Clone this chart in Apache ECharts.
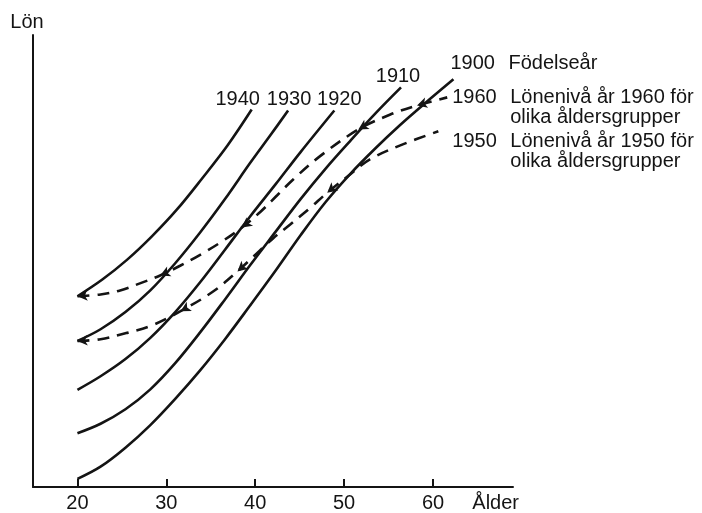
<!DOCTYPE html>
<html>
<head>
<meta charset="utf-8">
<script src="https://cdn.jsdelivr.net/npm/echarts@6/dist/echarts.min.js"></script>
<style>
html,body{margin:0;padding:0;background:#fff;}
#chart{width:702px;height:513px;}
</style>
</head>
<body>
<div id="chart"></div>
<script>
// Ages (x) and salary levels (y, arbitrary units 0-100)
const xTicks = [20, 30, 40, 50, 60];

const ages1940 = [20, 22.8, 25.6, 28.4, 31.2, 34.0, 36.9, 39.6];
const lon1940  = [42.2, 45.9, 50.3, 55.5, 61.4, 68.2, 75.6, 83.5];

const ages1930 = [20, 22.6, 25.4, 28.2, 31.0, 33.8, 36.6, 39.4, 41.7, 43.7];
const lon1930  = [32.3, 34.9, 38.7, 43.5, 49.5, 56.3, 63.7, 71.6, 77.8, 83.3];

const ages1920 = [20, 22.6, 25.4, 28.2, 31.0, 33.8, 36.6, 39.4, 42.3, 45.1, 48.9];
const lon1920  = [21.5, 24.5, 28.3, 33.0, 38.7, 45.3, 52.5, 59.8, 67.0, 74.1, 83.3];

const ages1910 = [20, 22.6, 25.4, 28.2, 31.0, 33.8, 36.6, 39.4, 42.3, 45.1, 47.9, 50.7, 53.5, 56.4];
const lon1910  = [11.9, 14.0, 17.2, 21.6, 27.4, 34.2, 41.5, 49.0, 56.5, 63.7, 70.4, 76.6, 82.6, 88.4];

const ages1900 = [20, 22.6, 25.4, 28.2, 31.0, 33.8, 36.6, 39.4, 42.3, 45.1, 47.9, 50.7, 53.5, 56.3, 59.1, 62.3];
const lon1900  = [1.8, 4.5, 8.7, 13.7, 19.5, 25.8, 32.7, 40.1, 47.9, 55.7, 63.0, 69.3, 74.9, 80.1, 84.9, 90.2];

const ages1960 = [20, 22.6, 24.8, 27.1, 29.3, 31.6, 34.0, 36.4, 38.5, 40.6, 42.5, 44.3, 47.3, 51.6, 55.2, 58.2, 61.6];
const lon1960  = [42.2, 42.6, 43.5, 45.1, 46.8, 49.0, 51.6, 54.5, 57.4, 60.9, 64.6, 68.1, 73.2, 79.1, 82.4, 84.4, 86.2];
const arrows1960 = [0, 4, 8, 13, 15];

const ages1950 = [20, 22.6, 25.6, 28.2, 31.6, 35.3, 38.0, 39.8, 42.0, 43.9, 46.2, 48.1, 50.7, 52.9, 56.6, 60.6];
const lon1950  = [32.3, 32.7, 34.1, 35.6, 38.9, 43.3, 47.7, 51.0, 55.0, 58.0, 61.8, 65.1, 69.2, 72.5, 75.8, 78.7];
const arrows1950 = [0, 4, 6, 11];

const INK = '#141414';
const FONT = '"Liberation Sans", Arial, sans-serif';

function pairs(xs, ys) { return xs.map((x, i) => [x, ys[i]]); }

function cohort(name, xs, ys, offset) {
  return {
    type: 'line', name: name, data: pairs(xs, ys),
    symbol: 'none', smooth: 0.35, animation: false, silent: true,
    lineStyle: { color: INK, width: 2.6 },
    endLabel: {
      show: true, formatter: name, distance: 0,
      align: 'center', verticalAlign: 'middle', offset: offset,
      color: INK, fontSize: 20, fontFamily: FONT
    }
  };
}

const rich = {
  y: { width: 58, fontSize: 20, fontFamily: FONT, color: INK, lineHeight: 20 },
  t: { fontSize: 20, fontFamily: FONT, color: INK, lineHeight: 20 }
};

function level(name, xs, ys, arrows, text, offset, rot) {
  const data = pairs(xs, ys).map((p, i) => {
    const item = { value: p };
    if (arrows.indexOf(i) >= 0) {
      item.symbol = 'arrow';
      item.symbolSize = [8, 10];
      item.symbolRotate = rot ? rot[i] : 90;
      item.itemStyle = { color: INK };
    }
    return item;
  });
  return {
    type: 'line', name: name, data: data,
    symbol: 'none', showSymbol: true, smooth: 0.35,
    animation: false, silent: true,
    lineStyle: { color: INK, width: 2.6, type: [12, 8] },
    endLabel: {
      show: true, formatter: text, distance: 0,
      align: 'left', verticalAlign: 'top', offset: offset,
      rich: rich
    }
  };
}

const chart = echarts.init(document.getElementById('chart'), null, { renderer: 'canvas' });

function build(rot60, rot50) {
  return {
    backgroundColor: '#fff',
    animation: false,
    grid: { left: 33, right: 189, top: 35, bottom: 23 },
    xAxis: {
      type: 'value', min: 15, max: 69,
      name: 'Ålder', nameLocation: 'end', nameGap: 6,
      nameTextStyle: { align: 'right', verticalAlign: 'top', padding: [6, 0, 0, 0],
                       fontSize: 20, fontFamily: FONT, color: INK },
      axisLine: { show: true, onZero: false, lineStyle: { color: INK, width: 2 } },
      axisTick: { show: true, inside: true, length: 8, customValues: xTicks,
                  lineStyle: { color: INK, width: 2 } },
      axisLabel: { show: true, customValues: xTicks, margin: 6,
                   fontSize: 20, fontFamily: FONT, color: INK },
      splitLine: { show: false }
    },
    yAxis: {
      type: 'value', min: 0, max: 100,
      name: 'Lön', nameLocation: 'end', nameGap: 3,
      nameTextStyle: { align: 'center', padding: [0, 12, 0, 0],
                       fontSize: 20, fontFamily: FONT, color: INK },
      axisLine: { show: true, onZero: false, lineStyle: { color: INK, width: 2 } },
      axisTick: { show: false }, axisLabel: { show: false }, splitLine: { show: false }
    },
    series: [
      cohort('1940', ages1940, lon1940, [-14, -10]),
      cohort('1930', ages1930, lon1930, [1, -11]),
      cohort('1920', ages1920, lon1920, [5, -11]),
      cohort('1910', ages1910, lon1910, [-3, -11]),
      Object.assign(cohort('1900', ages1900, lon1900, [-3, -16]), {
        endLabel: { show: true, formatter: '{y|1900}{t|Födelseår}', distance: 0,
                    align: 'left', verticalAlign: 'middle', offset: [-3, -16], rich: rich }
      }),
      level('1960', ages1960, lon1960, arrows1960,
            '{y|1960}{t|Lönenivå år 1960 för}\n{y|}{t|olika åldersgrupper}', [5, -10], rot60),
      level('1950', ages1950, lon1950, arrows1950,
            '{y|1950}{t|Lönenivå år 1950 för}\n{y|}{t|olika åldersgrupper}', [14, 0], rot50)
    ]
  };
}

chart.setOption(build(null, null));

// Orient arrowheads along each dashed curve, pointing back toward age 20
function rotations(xs, ys, arrows) {
  const r = {};
  arrows.forEach(i => {
    const j = Math.max(i - 1, 0);
    const a = chart.convertToPixel({ gridIndex: 0 }, [xs[j], ys[j]]);
    const b = chart.convertToPixel({ gridIndex: 0 }, [xs[i + 1], ys[i + 1]]);
    const dx = a[0] - b[0], dy = a[1] - b[1];
    r[i] = Math.atan2(-dy, dx) * 180 / Math.PI - 90;
  });
  return r;
}
chart.setOption(build(rotations(ages1960, lon1960, arrows1960),
                      rotations(ages1950, lon1950, arrows1950)), true);
</script>
</body>
</html>
